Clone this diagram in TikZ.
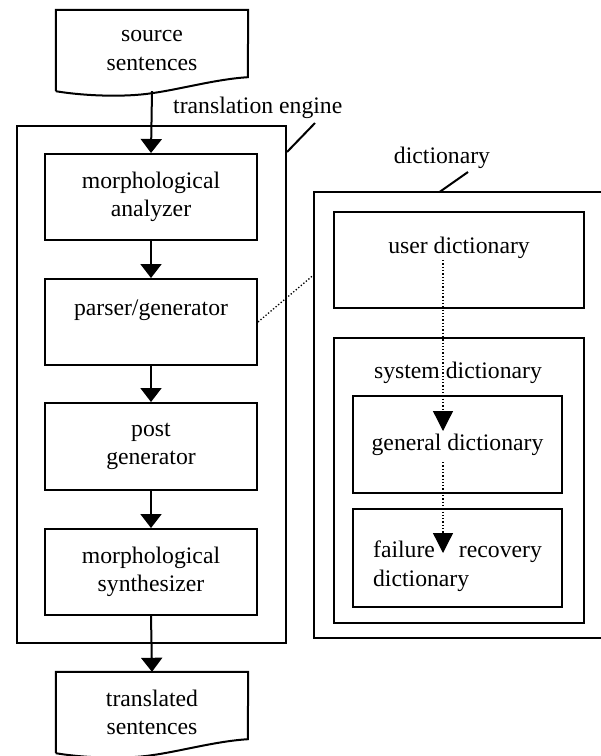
\documentclass[tikz,border=0pt]{standalone}
\usepackage{fontspec}
\setmainfont{Liberation Serif}
\usetikzlibrary{arrows.meta,calc}
\newcommand\mainfs{\fontsize{23.7}{28.5}\selectfont}
\newcommand\drawdoc[1]{%
  \draw[ln] (#1.south west) -- (#1.north west) -- (#1.north east)
    -- ([shift={(192,-14)}]#1.south west)
    .. controls ([shift={(160,-12)}]#1.south west) and ([shift={(125,-2)}]#1.south west) .. ([shift={(96,2)}]#1.south west)
    .. controls ([shift={(70,6)}]#1.south west) and ([shift={(30,5)}]#1.south west) .. (#1.south west);}
\tikzset{
  ln/.style={line width=2pt},
  box/.style={draw, ln, align=center, inner sep=0pt, font=\mainfs},
  stagebox/.style={box, minimum width=212pt},
  docnode/.style={align=center, inner sep=0pt, font=\mainfs, minimum width=192pt, minimum height=81pt},
  lbl/.style={font=\mainfs, inner sep=0pt},
  arr/.style={ln, -{Triangle[width=21pt,length=14pt]}},
  dotarr/.style={line width=1.3pt, dash pattern=on 1.3pt off 2pt, -{Triangle[width=20pt,length=20pt]}},
  dotln/.style={line width=1.3pt, dash pattern=on 1.3pt off 2pt},
}
\begin{document}
\begin{tikzpicture}[x=1pt,y=-1pt]
\useasboundingbox (0,0) rectangle (601,756);
% translation engine
\node[draw, ln, minimum width=269pt, minimum height=517pt, inner sep=0pt] (te) at (151.5,384.5) {};
\node[lbl, anchor=base west] (tel) at (173,113) {translation engine};
\coordinate (te1) at ($(te.north east)+(0,27)$);
\coordinate (te2) at (315,123);
\draw[ln] (te1) -- (te2);

\node[docnode] (src) at (152,50.5) {source\\sentences};
\drawdoc{src}
\node[docnode] (trn) at (152,712.5) {translated\\sentences};
\drawdoc{trn}

\node[stagebox, minimum height=86pt] (ana) at (151,197) {morphological\\analyzer};
\node[stagebox, minimum height=86pt] (par) at (151,322) {parser/generator\\\mbox{}};
\node[stagebox, minimum height=87pt] (post) at (151,446.5) {post\\generator};
\node[stagebox, minimum height=86pt] (syn) at (151,572) {morphological\\synthesizer};

\draw[arr] (src.south) -- (ana.north);
\draw[arr] (ana) -- (par);
\draw[arr] (par) -- (post);
\draw[arr] (post) -- (syn);
\draw[arr] (syn.south) -- (trn.north);

% dictionary
\node[minimum width=287pt, minimum height=446pt, inner sep=0pt] (dict) at (457.5,415) {};
\draw[ln] (dict.north east) -- (dict.north west) -- (dict.south west) -- (dict.south east);
\node[lbl] (dl) at (442,158) {dictionary};
\coordinate (dl1) at ($(dict.north west)+(126,0)$);
\coordinate (dl2) at (468,172);
\draw[ln] (dl1) -- (dl2);

\node[box, minimum width=250pt, minimum height=96pt] (usr) at (459,260) {user dictionary\\\mbox{}};
\node[box, minimum width=250pt, minimum height=285pt] (sys) at (459,480.5) {};
\node[lbl] (sysl) at (458,373) {system dictionary};
\node[box, minimum width=209pt, minimum height=97pt] (gen) at (457.5,444.5) {general dictionary};
\node[box, minimum width=209pt, minimum height=98pt, align=left] (fr) at (457.5,558) {\rule{0pt}{33pt}failure\hspace{24pt}recovery\\dictionary};

\coordinate (dc) at ($(dict.north west)+(0,83)$);
\draw[dotln] (par.east) -- (dc);

\coordinate (d1) at (443,260);
\coordinate (d2) at (443,431);
\coordinate (d3) at (443,462);
\coordinate (d4) at (443,553);
\draw[dotarr] (d1) -- (d2);
\draw[dotarr] (d3) -- (d4);
\end{tikzpicture}
\end{document}
